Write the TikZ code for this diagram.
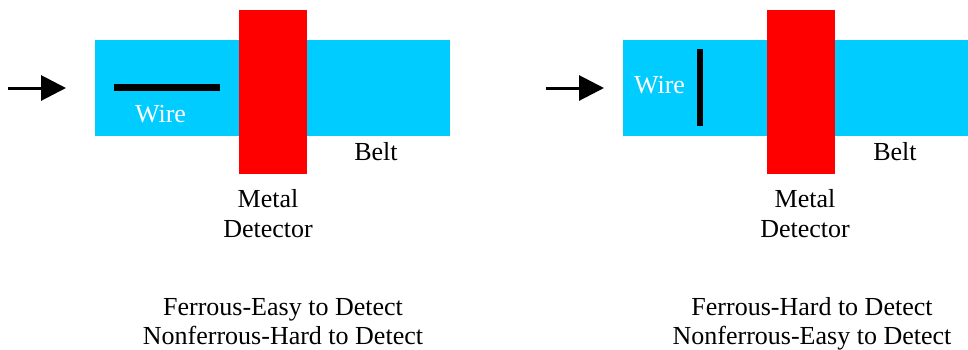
\documentclass[tikz,border=0pt]{standalone}
\usepackage{fontspec}
\setmainfont{Liberation Serif}
\usetikzlibrary{arrows.meta}
\definecolor{beltblue}{HTML}{00CCFF}
\definecolor{detred}{HTML}{FF0000}
\begin{document}
\begin{tikzpicture}[x=1pt,y=-1pt,
  belt/.style={fill=beltblue},
  detector/.style={fill=detred},
  lbl/.style={font=\fontsize{26}{30}\selectfont,inner sep=0pt,anchor=base},
  wirelbl/.style={lbl,text=white},
  feed/.style={line width=3pt,-{Triangle[length=25pt,width=25pt]}},
  wireline/.style={line width=7pt},
  wirelinev/.style={line width=6pt}]
\useasboundingbox (0,0) rectangle (968,349);
% ---------- left panel ----------
\fill[belt] (95,40) rectangle (450,136);
\fill[detector] (239,10) rectangle (307,174);
\coordinate (lw1) at (114,87.5);
\coordinate (lw2) at (220,87.5);
\draw[wireline] (lw1) -- (lw2);
\node[wirelbl] (lwire) at (160.5,122) {Wire};
\node[lbl] (lbelt) at (376,160) {Belt};
\node[lbl] (lmetal) at (268,207) {Metal};
\node[lbl] (ldet) at (268,237) {Detector};
\coordinate (la1) at (8,88);
\coordinate (la2) at (66,88);
\draw[feed] (la1) -- (la2);
\node[lbl] (lt1) at (283,315) {Ferrous-Easy to Detect};
\node[lbl] (lt2) at (283,344) {Nonferrous-Hard to Detect};
% ---------- right panel ----------
\fill[belt] (623,40) rectangle (975,136);
\fill[detector] (767,10) rectangle (835,174);
\coordinate (rw1) at (700,49);
\coordinate (rw2) at (700,126);
\draw[wirelinev] (rw1) -- (rw2);
\node[wirelbl] (rwire) at (659.5,93) {Wire};
\node[lbl] (rbelt) at (895,160) {Belt};
\node[lbl] (rmetal) at (805,207) {Metal};
\node[lbl] (rdet) at (805,237) {Detector};
\coordinate (ra1) at (546,88);
\coordinate (ra2) at (604,88);
\draw[feed] (ra1) -- (ra2);
\node[lbl] (rt1) at (812,315) {Ferrous-Hard to Detect};
\node[lbl] (rt2) at (812,344) {Nonferrous-Easy to Detect};
\end{tikzpicture}
\end{document}
